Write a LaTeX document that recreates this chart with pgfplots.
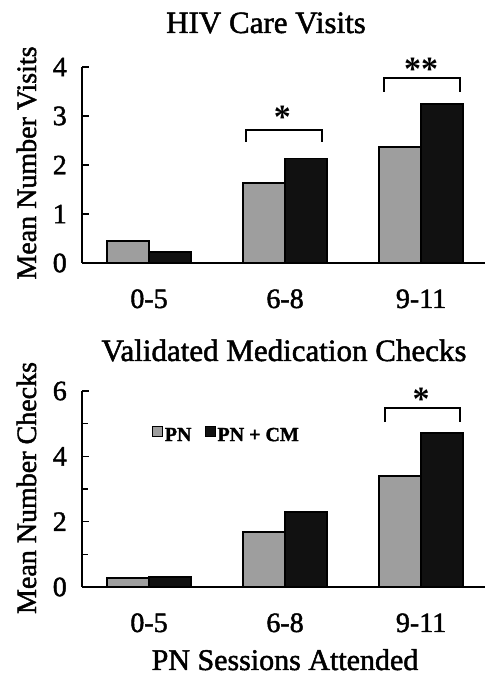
\documentclass[border=0pt]{standalone}
\usepackage{fontspec}
\setmainfont{Liberation Serif}[FakeBold=1.6]
\newfontfamily\starfont{Liberation Serif Bold}
\usepackage{pgfplots}
\pgfplotsset{compat=1.18}
\definecolor{bargray}{RGB}{158,158,158}
\definecolor{barblack}{RGB}{17,17,17}
\pgfplotsset{
  myaxis/.style={
    scale only axis, width=403pt, height=196pt, anchor=south west,
    axis x line=bottom, axis y line=left,
    axis line style={-, line width=1.5pt},
    xmin=-0.493, xmax=2.47, ymin=0,
    ybar=0pt, bar width=42pt,
    xtick={0,1,2}, xticklabels={0-5,6-8,9-11},
    xtick style={draw=none},
    ytick style={line width=1.2pt, black},
    major tick length=7pt, minor tick length=6pt,
    tick align=inside,
    xticklabel style={font=\fontsize{28}{30}\selectfont, inner sep=0pt, anchor=base, yshift=-45pt},
    yticklabel style={font=\fontsize{28}{30}\selectfont, inner sep=0pt, anchor=east, xshift=-15pt},
    /pgf/number format/assume math mode=true,
    clip=false,
  },
  sqleg/.style={legend image code/.code={\draw[##1, line width=1pt] (0pt,-1pt) rectangle (10pt,9pt);}},
}
\begin{document}
\begin{tikzpicture}
\useasboundingbox (0,0) rectangle (485pt,677pt);
% Top panel
\begin{axis}[myaxis, at={(82pt,414pt)}, ymax=4, ytick={0,1,2,3,4}]
\addplot[fill=bargray, draw=black, line width=1.6pt] coordinates {(0,0.45) (1,1.63) (2,2.37)};
\addplot[fill=barblack, draw=black, line width=1.6pt] coordinates {(0,0.23) (1,2.13) (2,3.24)};
\draw[line width=1.6pt] (axis cs:0.713,2.47) -- (axis cs:0.713,2.71) -- (axis cs:1.272,2.71) -- (axis cs:1.272,2.47);
\node[anchor=base, inner sep=0pt, font=\starfont\fontsize{34}{36}\selectfont] at (axis cs:0.98,2.74) {*};
\draw[line width=1.6pt] (axis cs:1.728,3.49) -- (axis cs:1.728,3.776) -- (axis cs:2.287,3.776) -- (axis cs:2.287,3.49);
\node[anchor=base, inner sep=0pt, font=\starfont\fontsize{34}{36}\selectfont] at (axis cs:2.0,3.72) {**};
\end{axis}
% Bottom panel
\begin{axis}[myaxis, at={(82pt,90pt)}, ymax=6, ytick={0,2,4,6}, minor ytick={1,3,5},
  legend style={draw=none, fill=none, inner sep=0pt, at={(0.174,0.776)}, anchor=west,
    legend columns=2, font=\bfseries\fontsize{20}{22}\selectfont,
    nodes={inner sep=1.5pt},
    /tikz/every even column/.append style={column sep=12pt}}]
\addplot[fill=bargray, draw=black, line width=1.6pt, sqleg] coordinates {(0,0.28) (1,1.68) (2,3.40)};
\addplot[fill=barblack, draw=black, line width=1.6pt, sqleg] coordinates {(0,0.30) (1,2.30) (2,4.72)};
\legend{PN, PN + CM}
\draw[line width=1.6pt] (axis cs:1.735,5.05) -- (axis cs:1.735,5.48) -- (axis cs:2.287,5.48) -- (axis cs:2.287,5.05);
\node[anchor=base, inner sep=0pt, font=\starfont\fontsize{34}{36}\selectfont] at (axis cs:2.0,5.40) {*};
\end{axis}
% Titles and labels
\node[anchor=base, inner sep=0pt, font=\fontsize{31}{33}\selectfont] at (266pt,644pt) {HIV Care Visits};
\node[anchor=base, inner sep=0pt, font=\fontsize{31}{33}\selectfont] at (284pt,316pt) {Validated Medication Checks};
\node[anchor=base, inner sep=0pt, font=\fontsize{30}{32}\selectfont] at (285pt,7pt) {PN Sessions Attended};
\node[rotate=90, anchor=base, inner sep=0pt, font=\fontsize{28}{30}\selectfont] at (36pt,514pt) {Mean Number Visits};
\node[rotate=90, anchor=base, inner sep=0pt, font=\fontsize{28}{30}\selectfont] at (36pt,189pt) {Mean Number Checks};
\end{tikzpicture}
\end{document}
